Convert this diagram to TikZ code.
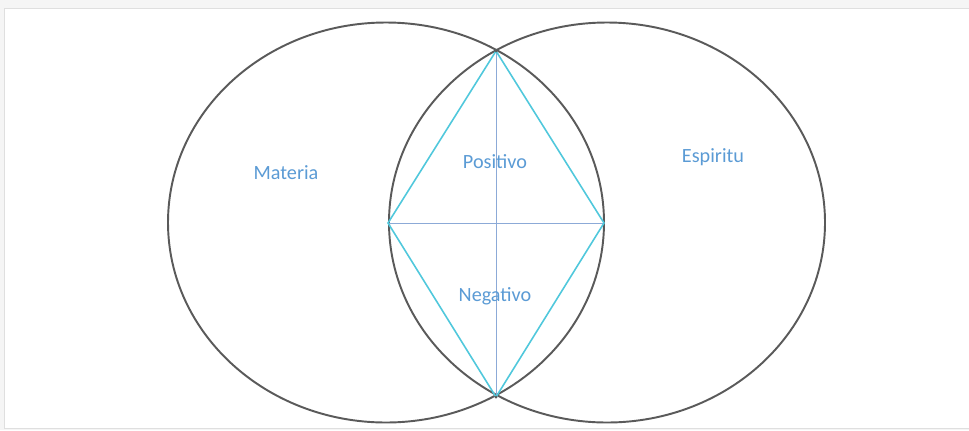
\documentclass[tikz,border=0pt]{standalone}
\usepackage{fontspec}
\setmainfont{Carlito}
\definecolor{ringgray}{RGB}{90,90,90}
\definecolor{rhombcyan}{RGB}{80,200,220}
\definecolor{crossblue}{RGB}{140,170,215}
\definecolor{labelblue}{RGB}{91,155,213}
\begin{document}
\begin{tikzpicture}[x=0.02cm,y=-0.02cm,
  lbl/.style={text=labelblue,font=\fontsize{11.5}{13}\selectfont,inner sep=0pt}]
\useasboundingbox (0,0) rectangle (969,430);
\fill[gray!8] (0,0) rectangle (969,430);
\filldraw[fill=white,draw=gray!25] (4,8) rectangle (969,428);
% the two ovals
\draw[ringgray,line width=1.1pt] (386,222.5) ellipse (218 and 200);
\draw[ringgray,line width=1.1pt] (607,222.5) ellipse (218 and 200);
% rhombus in the overlap
\coordinate (top) at (496,51);
\coordinate (bot) at (496,397);
\coordinate (lft) at (388,223);
\coordinate (rgt) at (604,223);
\draw[crossblue,line width=0.5pt] (top)--(bot); \draw[crossblue,line width=0.5pt] (lft)--(rgt);
\draw[rhombcyan,line width=0.9pt] (top)--(rgt)--(bot)--(lft)--cycle;
\fill[ringgray] (top) circle (1.5); \fill[ringgray] (bot) circle (1.5);
\node[lbl] (materia) at (286,173) {Materia};
\node[lbl] (espiritu) at (713,157) {Espiritu};
\node[lbl] (positivo) at (495,162) {Positivo};
\node[lbl] (negativo) at (495,296) {Negativo};
\end{tikzpicture}
\end{document}
